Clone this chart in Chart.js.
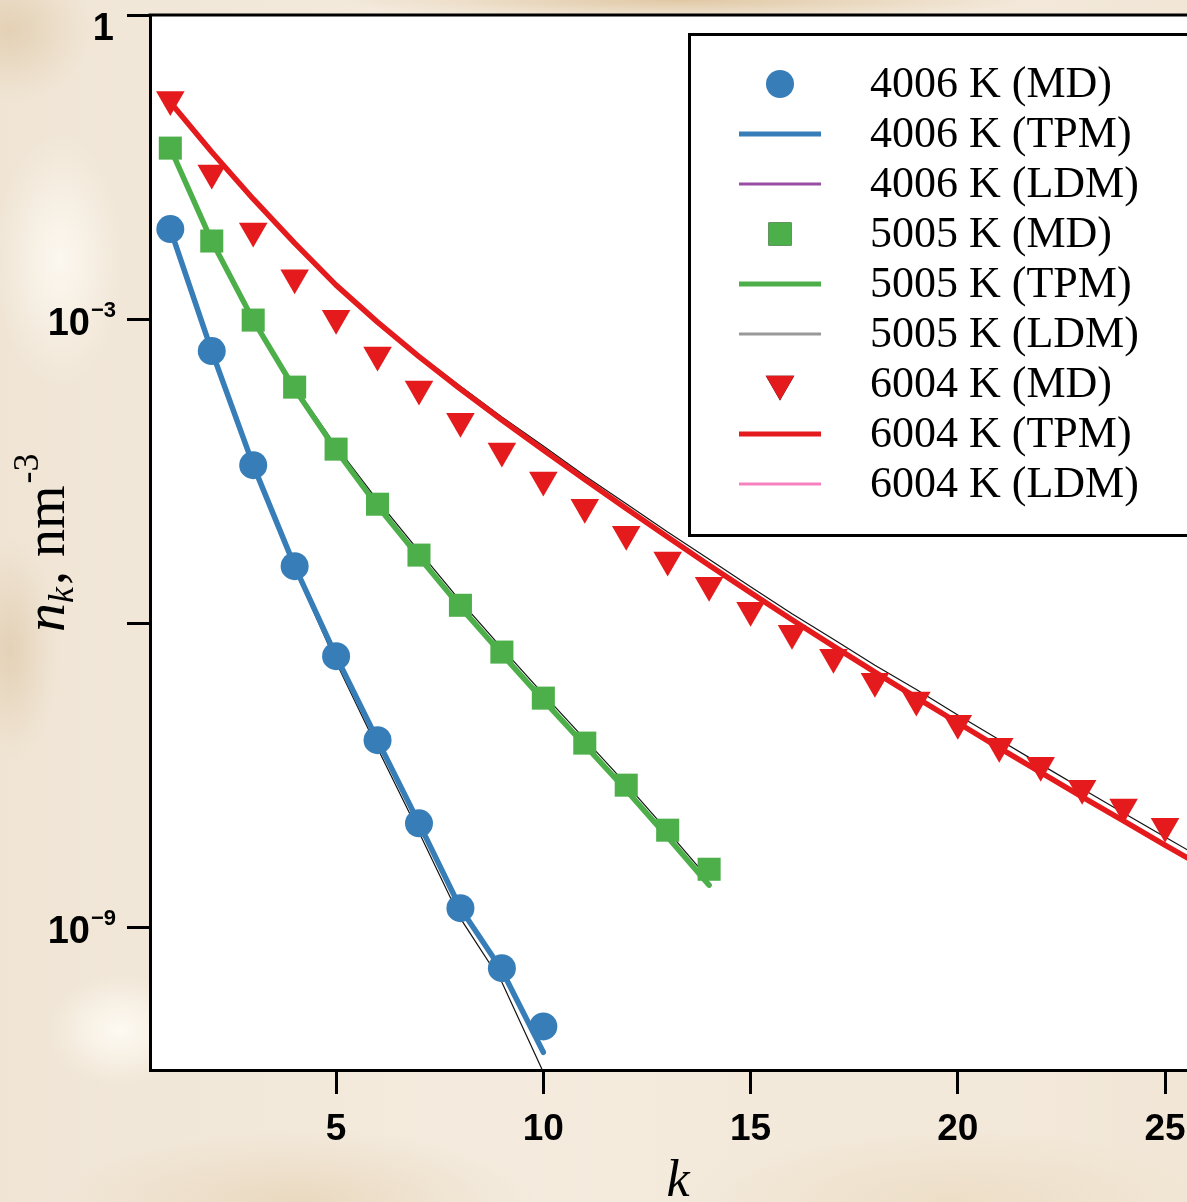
<!DOCTYPE html>
<html>
<head>
<meta charset="utf-8">
<script src="https://cdn.jsdelivr.net/npm/chart.js@4.4.1/dist/chart.umd.min.js"></script>
<style>
  html, body { margin: 0; padding: 0; }
  body {
    width: 1187px;
    height: 1202px;
    overflow: hidden;
    background:
      radial-gradient(ellipse 60px 140px at 10px 650px, rgba(196, 158, 105, 0.28), transparent 80%),
      radial-gradient(ellipse 100px 90px at 10px 30px, rgba(196, 156, 98, 0.28), transparent 80%),
      radial-gradient(ellipse 80px 160px at 60px 260px, rgba(255, 252, 246, 0.8), transparent 80%),
      radial-gradient(ellipse 90px 70px at 120px 1030px, rgba(255, 252, 245, 0.9), transparent 80%),
      radial-gradient(ellipse 380px 22px at 680px 0px, rgba(200, 158, 96, 0.45), transparent 90%),
      radial-gradient(ellipse 260px 80px at 300px 1202px, rgba(214, 180, 130, 0.3), transparent 90%),
      radial-gradient(ellipse 300px 80px at 950px 1202px, rgba(222, 196, 150, 0.28), transparent 90%),
      linear-gradient(90deg, #f0e5d5, #f4ebde 40%, #f2e7d7);
  }
  #wrap { position: relative; width: 1187px; height: 1202px; }
</style>
</head>
<body>
<div id="wrap"><canvas id="nkChart" width="1187" height="1202"></canvas></div>
<script>
// cluster size k for each temperature
const k4006 = [1, 2, 3, 4, 5, 6, 7, 8, 9, 10];
const k5005 = [1, 2, 3, 4, 5, 6, 7, 8, 9, 10, 11, 12, 13, 14];
const k6004 = [1, 2, 3, 4, 5, 6, 7, 8, 9, 10, 11, 12, 13, 14, 15, 16, 17, 18, 19, 20, 21, 22, 23, 24, 25];
const k6004Fit = [1, 2, 3, 4, 5, 6, 7, 8, 9, 10, 11, 12, 13, 14, 15, 16, 17, 18, 19, 20, 21, 22, 23, 24, 25, 26];

// n_k, nm^-3
const n4006MD  = [7.73e-3, 4.83e-4, 3.62e-5, 3.65e-6, 4.72e-7, 7.00e-8, 1.06e-8, 1.54e-9, 3.94e-10, 1.05e-10];
const n4006TPM = [7.73e-3, 4.83e-4, 3.62e-5, 3.65e-6, 4.72e-7, 7.00e-8, 1.06e-8, 1.54e-9, 3.76e-10, 5.83e-11];
const n4006LDM = [7.73e-3, 4.83e-4, 3.54e-5, 3.41e-6, 4.12e-7, 5.83e-8, 8.65e-9, 1.22e-9, 2.86e-10, 3.71e-11];

const n5005MD  = [4.86e-2, 5.89e-3, 9.77e-4, 2.13e-4, 5.21e-5, 1.49e-5, 4.69e-6, 1.50e-6, 5.18e-7, 1.82e-7, 6.55e-8, 2.52e-8, 9.06e-9, 3.73e-9];
const n5005TPM = [4.86e-2, 5.89e-3, 9.77e-4, 2.04e-4, 5.09e-5, 1.43e-5, 4.48e-6, 1.44e-6, 4.94e-7, 1.74e-7, 6.25e-8, 2.25e-8, 7.73e-9, 2.60e-9];
const n5005LDM = [4.86e-2, 5.89e-3, 1.00e-3, 2.18e-4, 5.58e-5, 1.63e-5, 5.13e-6, 1.65e-6, 5.66e-7, 1.99e-7, 7.16e-8, 2.58e-8, 8.85e-9, 2.97e-9];

const n6004MD  = [0.147, 2.76e-2, 7.38e-3, 2.56e-3, 1.02e-3, 4.42e-4, 2.04e-4, 9.84e-5, 4.98e-5, 2.58e-5, 1.39e-5, 7.55e-6, 4.19e-6,
                  2.37e-6, 1.34e-6, 7.96e-7, 4.61e-7, 2.67e-7, 1.74e-7, 1.03e-7, 6.11e-8, 3.96e-8, 2.35e-8, 1.53e-8, 9.91e-9];
const n6004TPM = [0.138, 4.45e-2, 1.53e-2, 5.62e-3, 2.16e-3, 9.34e-4, 4.26e-4, 2.04e-4, 1.01e-4, 5.10e-5, 2.61e-5, 1.35e-5, 7.06e-6,
                  3.73e-6, 2.00e-6, 1.08e-6, 5.93e-7, 3.28e-7, 1.84e-7, 1.04e-7, 5.89e-8, 3.37e-8, 1.93e-8, 1.12e-8, 6.47e-9, 3.77e-9];
const n6004LDM = [0.138, 4.45e-2, 1.53e-2, 5.62e-3, 2.16e-3, 9.55e-4, 4.46e-4, 2.18e-4, 1.08e-4, 5.58e-5, 2.85e-5, 1.51e-5, 7.91e-6,
                  4.28e-6, 2.29e-6, 1.24e-6, 6.95e-7, 3.85e-7, 2.21e-7, 1.24e-7, 7.07e-8, 4.04e-8, 2.32e-8, 1.34e-8, 7.76e-9, 4.52e-9];

// axes
const xTicks = [5, 10, 15, 20, 25];
const yTicks = [1, 1e-3, 1e-6, 1e-9];
const yTickBase = ['1', '10', '', '10'];
const yTickExp = ['', '\u22123', '', '\u22129'];

const BLUE = '#377eb8', GREEN = '#4daf4a', RED = '#e41a1c';

const pts = (ks, vals) => ks.map((k, i) => ({ x: k, y: vals[i] }));

// MD markers on top, TPM curves under them, thin LDM curves at the bottom
function mdSet(label, ks, vals, color, style, radius, rotation) {
    return {
        label, data: pts(ks, vals), showLine: false,
        pointStyle: style, pointRadius: radius, pointRotation: rotation || 0,
        pointBackgroundColor: color, pointBorderWidth: 0,
        legend: { kind: 'point', color, style, radius, rotation: rotation || 0 },
        order: 0
    };
}
function tpmSet(label, ks, vals, color) {
    return {
        label, data: pts(ks, vals), showLine: true, pointRadius: 0,
        borderColor: color, borderWidth: 5.5, borderCapStyle: 'round', borderJoinStyle: 'round',
        legend: { kind: 'line', color, width: 5 },
        order: 1
    };
}
function ldmSet(label, ks, vals, legendColor) {
    return {
        label, data: pts(ks, vals), showLine: true, pointRadius: 0,
        borderColor: '#111', borderWidth: 1.2, clip: 0,
        legend: { kind: 'line', color: legendColor, width: 3 },
        order: 2
    };
}

// white plot panel + top frame line
const plotPanel = {
    id: 'plotPanel',
    beforeDraw(chart) {
        const { ctx, chartArea: a } = chart;
        ctx.save();
        ctx.fillStyle = '#fff';
        ctx.fillRect(a.left, a.top, a.right - a.left, a.bottom - a.top);
        ctx.restore();
    },
    afterDraw(chart) {
        const { ctx, chartArea: a } = chart;
        ctx.save();
        ctx.strokeStyle = '#000';
        ctx.lineWidth = 3;
        ctx.beginPath();
        ctx.moveTo(a.left - 1.5, a.top);
        ctx.lineTo(chart.width, a.top);
        ctx.stroke();
        ctx.restore();
    }
};

// y tick labels with superscript exponents, and axis titles
const axisText = {
    id: 'axisText',
    afterDraw(chart) {
        const { ctx } = chart;
        const y = chart.scales.y, x = chart.scales.x;
        ctx.save();
        ctx.fillStyle = '#000';
        yTicks.forEach((v, i) => {
            const py = y.getPixelForValue(v);
            if (!yTickBase[i]) return;
            ctx.textBaseline = 'alphabetic';
            ctx.font = 'bold 38px "Liberation Sans", Arial, sans-serif';
            ctx.textAlign = 'right';
            if (!yTickExp[i]) {
                ctx.fillText(yTickBase[i], 114, Math.max(py + 16, 40));
                return;
            }
            ctx.fillText(yTickBase[i], 90, py + 16);
            ctx.font = 'bold 22px "Liberation Sans", Arial, sans-serif';
            ctx.textAlign = 'left';
            ctx.fillText(yTickExp[i], 91, py - 2);
        });

        // x title
        ctx.font = 'italic 52px "Liberation Serif", "Times New Roman", serif';
        ctx.textAlign = 'center';
        ctx.textBaseline = 'alphabetic';
        ctx.fillText('k', x.getPixelForValue(13.25), 1196);

        // y title, rotated
        ctx.translate(64, 632);
        ctx.rotate(-Math.PI / 2);
        ctx.textAlign = 'left';
        let cx = 0;
        ctx.font = 'italic 58px "Liberation Serif", "Times New Roman", serif';
        ctx.fillText('n', cx, 0);
        cx += ctx.measureText('n').width;
        ctx.font = 'italic 36px "Liberation Serif", "Times New Roman", serif';
        ctx.fillText('k', cx, 9);
        cx += ctx.measureText('k').width + 2;
        ctx.font = '56px "Liberation Serif", "Times New Roman", serif';
        ctx.fillText(', nm', cx, 0);
        cx += ctx.measureText(', nm').width + 2;
        ctx.font = '36px "Liberation Serif", "Times New Roman", serif';
        ctx.fillText('-3', cx, -26);
        ctx.restore();
    }
};

// framed legend inside the plot, rows follow the dataset order
const legendBox = {
    id: 'legendBox',
    afterDraw(chart) {
        const { ctx } = chart;
        const left = 689, top = 34, right = chart.width + 10, bottom = 535;
        ctx.save();
        ctx.fillStyle = '#fff';
        ctx.fillRect(left, top, right - left, bottom - top);
        ctx.strokeStyle = '#000';
        ctx.lineWidth = 3;
        ctx.strokeRect(left + 0.5, top + 0.5, right - left, bottom - top);

        chart.data.datasets.forEach((ds, i) => {
            const cy = 84 + i * 50;
            const lg = ds.legend;
            if (lg.kind === 'point') {
                Chart.helpers.drawPoint(ctx, {
                    pointStyle: lg.style, radius: lg.radius, rotation: lg.rotation, borderWidth: 0
                }, 780, cy);
                ctx.fillStyle = lg.color;
                ctx.fill();
            } else {
                ctx.strokeStyle = lg.color;
                ctx.lineWidth = lg.width;
                ctx.beginPath();
                ctx.moveTo(739, cy);
                ctx.lineTo(821, cy);
                ctx.stroke();
            }
            ctx.fillStyle = '#000';
            ctx.font = '44px "Liberation Serif", "Times New Roman", serif';
            ctx.textAlign = 'left';
            ctx.textBaseline = 'middle';
            ctx.fillText(ds.label, 870, cy + 1);
        });
        ctx.restore();
    }
};

const ctx = document.getElementById('nkChart').getContext('2d');
new Chart(ctx, {
    type: 'scatter',
    data: {
        datasets: [
            mdSet('4006 K (MD)', k4006, n4006MD, BLUE, 'circle', 14),
            tpmSet('4006 K (TPM)', k4006, n4006TPM, BLUE),
            ldmSet('4006 K (LDM)', k4006, n4006LDM, '#984ea3'),
            mdSet('5005 K (MD)', k5005, n5005MD, GREEN, 'rect', 16.3),
            tpmSet('5005 K (TPM)', k5005, n5005TPM, GREEN),
            ldmSet('5005 K (LDM)', k5005, n5005LDM, '#999999'),
            mdSet('6004 K (MD)', k6004, n6004MD, RED, 'triangle', 16.5, 180),
            tpmSet('6004 K (TPM)', k6004Fit, n6004TPM, RED),
            ldmSet('6004 K (LDM)', k6004Fit, n6004LDM, '#f781bf')
        ]
    },
    options: {
        responsive: false,
        animation: false,
        events: [],
        layout: { autoPadding: false, padding: { top: 15, right: 0, bottom: 0, left: 0 } },
        plugins: {
            legend: { display: false },
            tooltip: { enabled: false }
        },
        scales: {
            x: {
                type: 'linear',
                min: 0.51,
                max: 25.53,
                afterBuildTicks: (s) => { s.ticks = xTicks.map(v => ({ value: v })); },
                afterFit: (s) => { s.height = 132; s.paddingLeft = 0; s.paddingRight = 0; },
                grid: { drawOnChartArea: false, drawTicks: true, tickLength: 24, color: '#000', lineWidth: 3 },
                border: { display: true, color: '#000', width: 3 },
                ticks: {
                    color: '#000',
                    maxRotation: 0,
                    padding: 14,
                    font: { family: '"Liberation Sans", Arial, sans-serif', weight: 'bold', size: 37 }
                }
            },
            y: {
                type: 'logarithmic',
                min: 3.9e-11,
                max: 1,
                afterBuildTicks: (s) => { s.ticks = yTicks.map(v => ({ value: v })); },
                afterFit: (s) => { s.width = 150; s.paddingTop = 0; s.paddingBottom = 0; },
                grid: { drawOnChartArea: false, drawTicks: true, tickLength: 23, color: '#000', lineWidth: 3 },
                border: { display: true, color: '#000', width: 3 },
                ticks: { display: false }
            }
        }
    },
    plugins: [plotPanel, axisText, legendBox]
});
</script>
</body>
</html>
